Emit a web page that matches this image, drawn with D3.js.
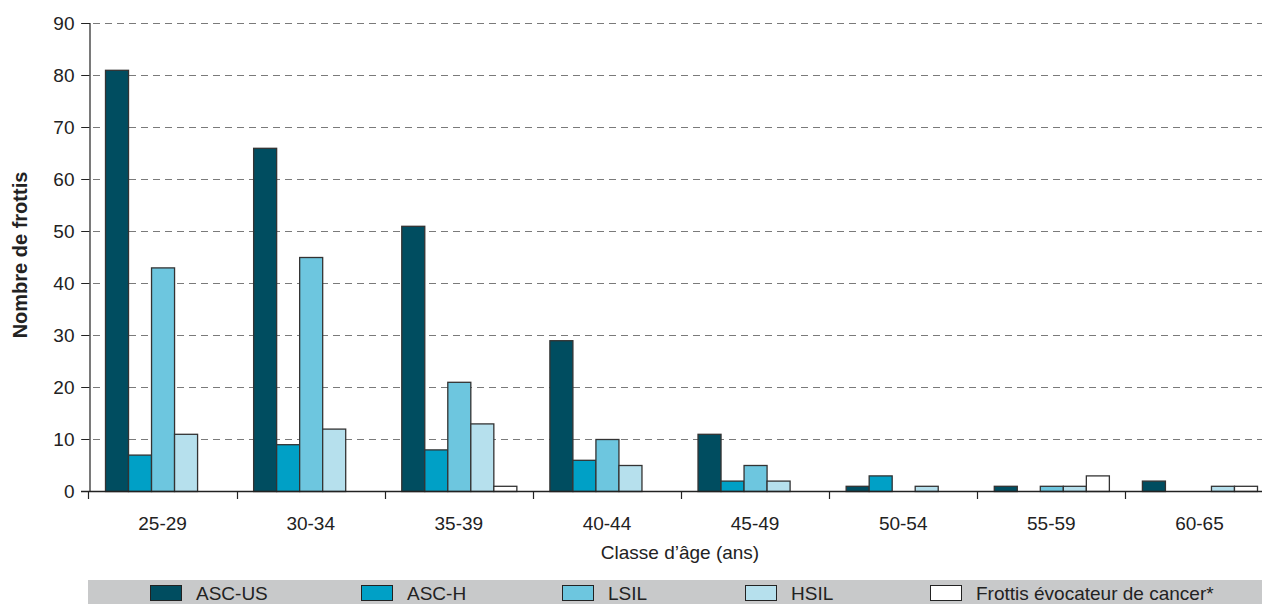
<!DOCTYPE html>
<html>
<head>
<meta charset="utf-8">
<script src="https://cdn.jsdelivr.net/npm/d3@7"></script>
<style>
  html, body { margin: 0; padding: 0; background: #fff; }
  svg { display: block; }
  text { font-family: "Liberation Sans Narrow", "Liberation Sans", Arial, sans-serif; fill: #222; }
</style>
</head>
<body>
<svg id="chart" width="1262" height="604"></svg>
<script>
// Age classes (x axis)
const ageClasses = ["25-29", "30-34", "35-39", "40-44", "45-49", "50-54", "55-59", "60-65"];

// Smear categories (series)
const seriesNames = ["ASC-US", "ASC-H", "LSIL", "HSIL", "Frottis évocateur de cancer*"];

// Number of smears per age class, one array per series
const ascUS   = [81, 66, 51, 29, 11, 1, 1, 2];
const ascH    = [7, 9, 8, 6, 2, 3, 0, 0];
const lsil    = [43, 45, 21, 10, 5, 0, 1, 0];
const hsil    = [11, 12, 13, 5, 2, 1, 1, 1];
const cancer  = [0, 0, 1, 0, 0, 0, 3, 1];

const yTicks = [0, 10, 20, 30, 40, 50, 60, 70, 80, 90];

const colors = ["#004d60", "#00a0c6", "#6dc6df", "#b6e0ed", "#ffffff"];

const seriesValues = [ascUS, ascH, lsil, hsil, cancer];

const svg = d3.select("#chart");
const W = 1262, H = 604;
const plotLeft = 89, plotTop = 23, plotBottom = 491;
const step = 148; // width of one age class; the last class runs past the right edge

const x0 = d3.scaleBand()
  .domain(ageClasses)
  .range([plotLeft, plotLeft + step * ageClasses.length])
  .paddingInner(0.223)
  .paddingOuter(0.108);

const x1 = d3.scaleBand()
  .domain(seriesNames)
  .range([0, x0.bandwidth()]);

const y = d3.scaleLinear()
  .domain([0, 90])
  .range([plotBottom, plotTop]);

// Dashed horizontal gridlines
svg.append("g")
  .selectAll("line")
  .data(yTicks.filter(d => d > 0))
  .join("line")
  .attr("x1", plotLeft - 8)
  .attr("x2", W)
  .attr("y1", d => Math.round(y(d)) + 0.5)
  .attr("y2", d => Math.round(y(d)) + 0.5)
  .attr("stroke", "#7a7a7a")
  .attr("stroke-width", 1.2)
  .attr("stroke-dasharray", "7,5");

// Y axis
const yAxis = d3.axisLeft(y)
  .tickValues(yTicks)
  .tickSize(8)
  .tickPadding(7)
  .tickFormat(d3.format("d"));
const gy = svg.append("g")
  .attr("transform", `translate(${plotLeft + 0.5},0)`)
  .call(yAxis);
gy.select(".domain").attr("stroke", "#222").attr("stroke-width", 1.2);
gy.selectAll(".tick line").attr("stroke", "#222");
gy.selectAll(".tick text")
  .style("font-size", "19px")
  .attr("fill", "#222");

// Bars
const groups = svg.append("g")
  .selectAll("g")
  .data(ageClasses)
  .join("g")
  .attr("transform", d => `translate(${x0(d)},0)`);

groups.selectAll("rect")
  .data((d, i) => seriesNames.map((s, j) => ({ s, j, v: seriesValues[j][i] })))
  .join("rect")
  .filter(d => d.v > 0)
  .attr("x", d => x1(d.s) + 0.5)
  .attr("y", d => y(d.v) + 0.5)
  .attr("width", x1.bandwidth())
  .attr("height", d => y(0) - y(d.v))
  .attr("fill", d => colors[d.j])
  .attr("stroke", "#333")
  .attr("stroke-width", 1.3);

// X axis
const xAxis = d3.axisBottom(x0).tickSize(0).tickPadding(25);
const gx = svg.append("g")
  .attr("transform", `translate(0,${plotBottom + 0.5})`)
  .call(xAxis);
gx.select(".domain").remove();
gx.selectAll(".tick text").style("font-size", "19px").attr("fill", "#222");

svg.append("line")
  .attr("x1", plotLeft - 8).attr("x2", W)
  .attr("y1", plotBottom + 0.5).attr("y2", plotBottom + 0.5)
  .attr("stroke", "#222").attr("stroke-width", 1.4);

// Category separators below the axis
const bounds = ageClasses.map(d => x0(d) - x0.step() * x0.paddingInner() / 2);
svg.append("g")
  .selectAll("line")
  .data(bounds)
  .join("line")
  .attr("x1", d => Math.round(d) + 0.5)
  .attr("x2", d => Math.round(d) + 0.5)
  .attr("y1", plotBottom)
  .attr("y2", plotBottom + 8)
  .attr("stroke", "#222")
  .attr("stroke-width", 1.2);

// Axis titles
svg.append("text")
  .attr("x", 680)
  .attr("y", 559)
  .attr("text-anchor", "middle")
  .style("font-size", "19px")
  .text("Classe d’âge (ans)");

svg.append("text")
  .attr("transform", `translate(27,${(plotTop + plotBottom) / 2 - 2}) rotate(-90)`)
  .attr("text-anchor", "middle")
  .style("font-size", "20px")
  .style("font-weight", "bold")
  .text("Nombre de frottis");

// Legend band
svg.append("rect")
  .attr("x", plotLeft - 1)
  .attr("y", 580)
  .attr("width", W - plotLeft + 1)
  .attr("height", 24)
  .attr("fill", "#c8c9ca");

const legendX = [150, 361, 562, 745, 930];
const legend = svg.append("g")
  .selectAll("g")
  .data(seriesNames)
  .join("g")
  .attr("transform", (d, i) => `translate(${legendX[i]},585)`);
legend.append("rect")
  .attr("x", 0.5).attr("y", 0.5)
  .attr("width", 31).attr("height", 15)
  .attr("fill", (d, i) => colors[i])
  .attr("stroke", "#222")
  .attr("stroke-width", 1);
legend.append("text")
  .attr("x", 46)
  .attr("y", 15)
  .style("font-size", "19px")
  .text(d => d);
</script>
</body>
</html>
